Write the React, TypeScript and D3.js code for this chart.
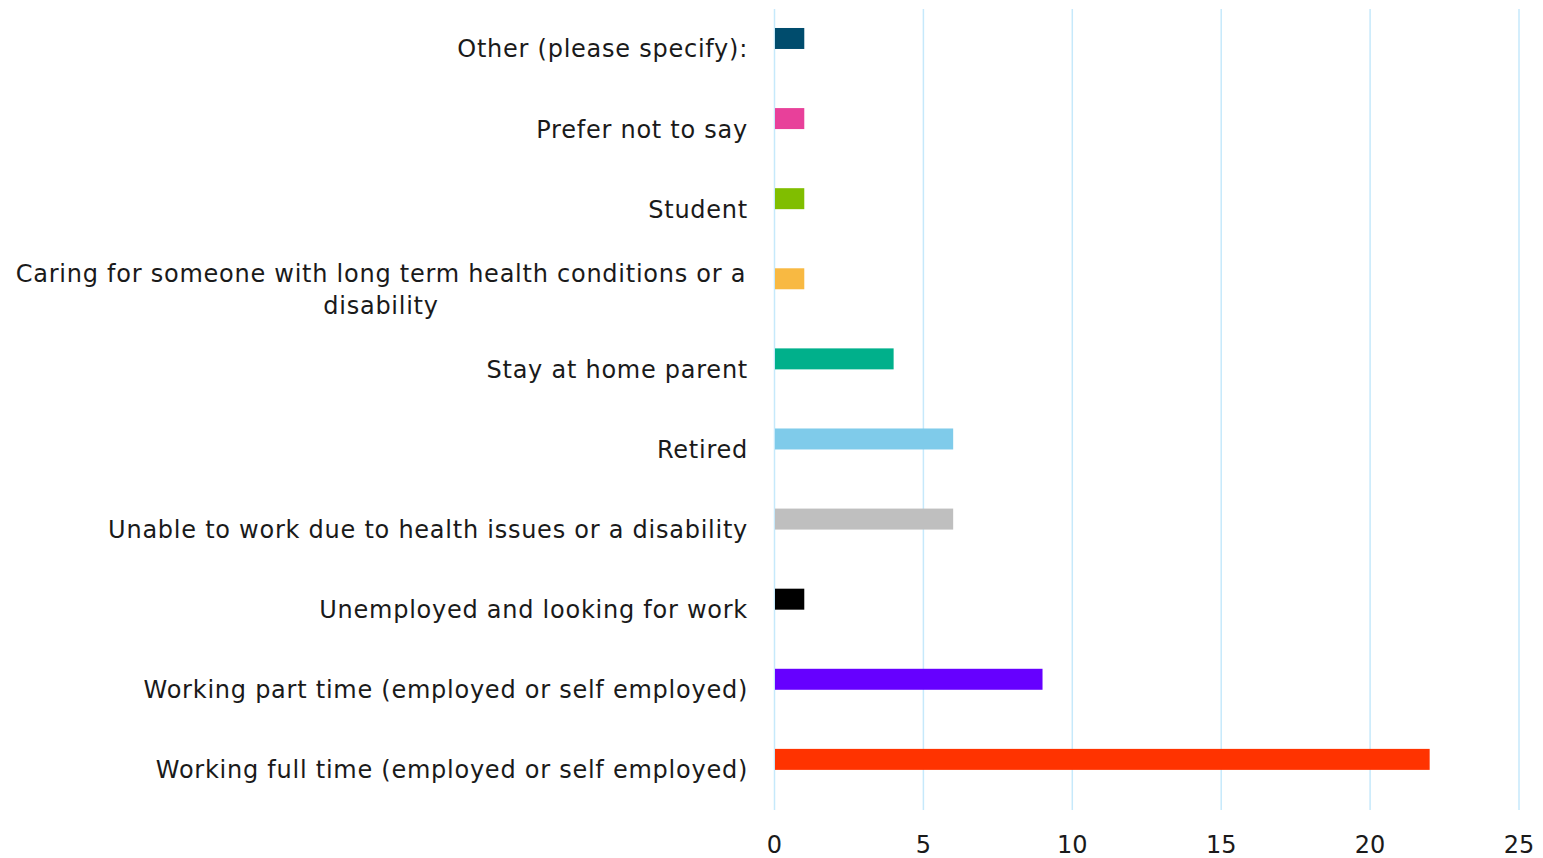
import React from "react";
import * as d3 from "d3";

const categories = [
  "Other (please specify):",
  "Prefer not to say",
  "Student",
  "Caring for someone with long term health conditions or a|disability",
  "Stay at home parent",
  "Retired",
  "Unable to work due to health issues or a disability",
  "Unemployed and looking for work",
  "Working part time (employed or self employed)",
  "Working full time (employed or self employed)",
];
const values = [1, 1, 1, 1, 4, 6, 6, 1, 9, 22];
const colors = [
  "#004c6d",
  "#e8409a",
  "#80be00",
  "#f8b942",
  "#00b08b",
  "#7fcbea",
  "#bfbfbf",
  "#000000",
  "#6600ff",
  "#ff3300",
];
const ticks = [0, 5, 10, 15, 20, 25];

export default function App() {
  const W = 1543, H = 858;
  const x = d3.scaleLinear().domain([0, 25]).range([774.5, 1519]);
  const y = d3.scaleBand<number>().domain(d3.range(categories.length)).range([9, 810]);
  const bw = y.bandwidth();
  const font = "'DejaVu Sans', sans-serif";
  const fs = 24;
  const ls = 0.75;
  return (
    <svg width={W} height={H} style={{ position: "absolute", left: 0, top: 0 }}>
      <rect width={W} height={H} fill="#fff" />
      {ticks.map((t) => (
        <line key={t} x1={x(t)} x2={x(t)} y1={9} y2={810} stroke="#c6e9fb" strokeWidth={1.5} />
      ))}
      {values.map((v, i) => (
        <rect
          key={i}
          x={x(0) + 0.5}
          y={(y(i) as number) + bw * 0.237}
          width={x(v) - x(0) - 0.5}
          height={bw * 0.262}
          fill={colors[i]}
        />
      ))}
      {categories.map((c, i) => {
        const lines = c.split("|");
        const cy = (y(i) as number) + bw / 2;
        if (lines.length === 1) {
          return (
            <text key={i} x={748} y={cy} dy="0.35em" textAnchor="end" fontFamily={font} fontSize={fs} letterSpacing={ls} fill="#1a1a1a">
              {c}
            </text>
          );
        }
        return (
          <text key={i} x={381} y={cy - 16} textAnchor="middle" fontFamily={font} fontSize={fs} letterSpacing={ls} fill="#1a1a1a">
            {lines.map((l, k) => (
              <tspan key={k} x={381} dy={k === 0 ? "0.35em" : 32}>
                {l}
              </tspan>
            ))}
          </text>
        );
      })}
      {ticks.map((t) => (
        <text key={t} x={x(t)} y={845} dy="0.35em" textAnchor="middle" fontFamily={font} fontSize={fs} fill="#1a1a1a">
          {t}
        </text>
      ))}
    </svg>
  );
}
